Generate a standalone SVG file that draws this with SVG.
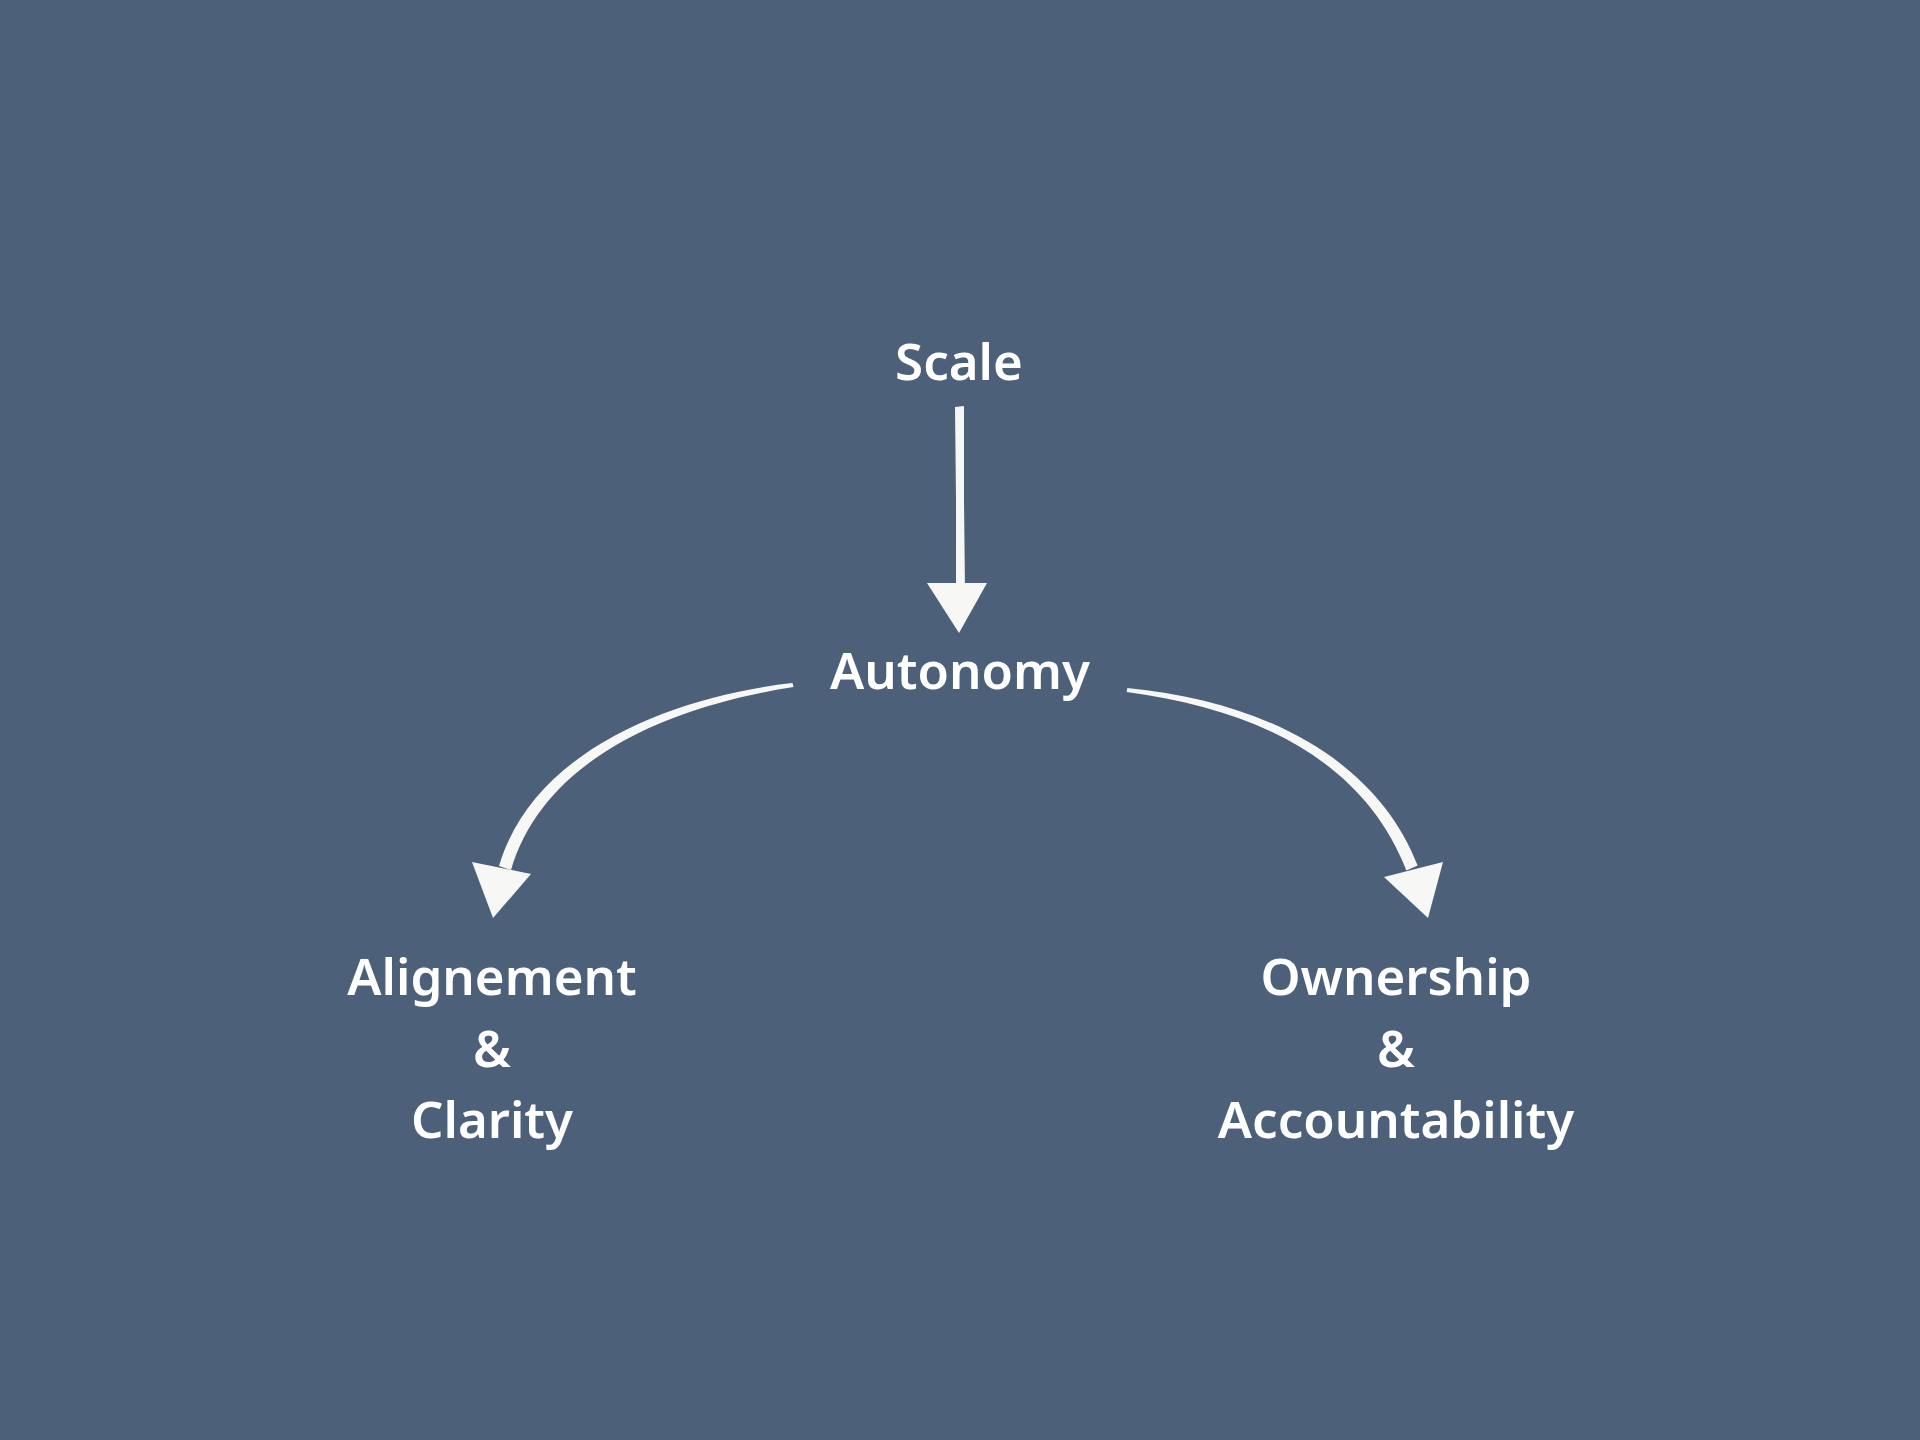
<svg xmlns="http://www.w3.org/2000/svg" width="1920" height="1440" viewBox="0 0 1920 1440">
<style>
.lbl{font-family:"Noto Sans",Lato,"Liberation Sans",sans-serif;font-weight:600;font-size:51px;fill:#ffffff;text-anchor:middle}
.chalk{fill:#f7f7f5}
</style>
<rect width="1920" height="1440" fill="#4c6079"/>
<g id="connectors">
<g id="e-scale-autonomy">
<path class="chalk" d="M955,407 L964,406 L964,500 L965,590 L956,590 L956,500 Z"/>
<polygon class="chalk" points="927,583 987,583 959,633"/>
</g>
<g id="e-autonomy-alignement">
<path class="chalk" d="M792.5,683 C679,695.5 534,747.5 499,866 L511,870 C546,752.5 681,704.5 793.5,687 Z"/>
<polygon class="chalk" points="472,862 531,874 493,918"/>
</g>
<g id="e-autonomy-ownership">
<path class="chalk" d="M1127.3,688 C1260.5,700.5 1375.6,757.5 1417.6,865.5 L1406.4,870.5 C1364.4,762.5 1259.5,709.5 1126.7,692 Z"/>
<polygon class="chalk" points="1384,877 1443,862 1428,918"/>
</g>
</g>
<g id="scale"><text class="lbl" x="959" y="380">Scale</text></g>
<g id="autonomy"><text class="lbl" x="960" y="689">Autonomy</text></g>
<g id="alignement">
<text class="lbl" x="492" y="995">Alignement</text>
<text class="lbl" x="492" y="1067">&amp;</text>
<text class="lbl" x="492" y="1138">Clarity</text>
</g>
<g id="ownership">
<text class="lbl" x="1396" y="995">Ownership</text>
<text class="lbl" x="1396" y="1067">&amp;</text>
<text class="lbl" x="1396" y="1138">Accountability</text>
</g>
</svg>
